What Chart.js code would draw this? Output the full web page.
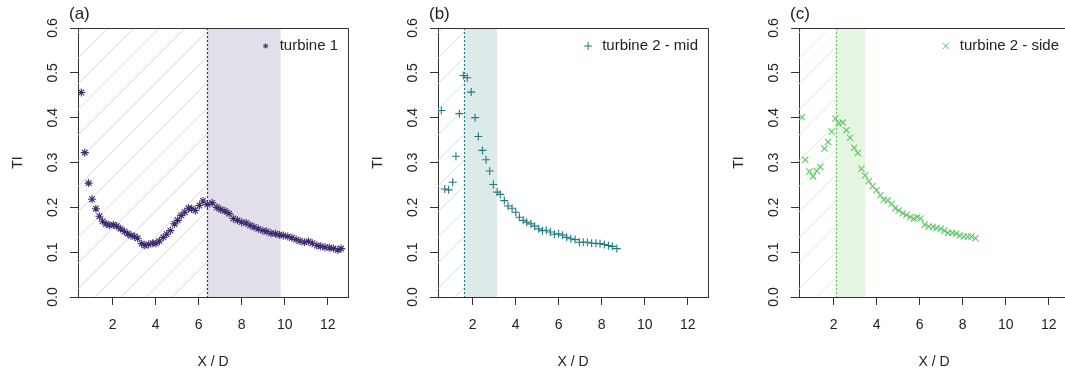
<!DOCTYPE html>
<html>
<head>
<meta charset="utf-8">
<script src="https://cdn.jsdelivr.net/npm/chart.js@4/dist/chart.umd.min.js"></script>
<style>
  html, body { margin: 0; padding: 0; background: #fff; }
  body { width: 1065px; height: 373px; overflow: hidden; position: relative; }
  canvas { position: absolute; top: 0; }
</style>
</head>
<body>
<canvas id="panelA" width="360" height="373" style="left:0px"></canvas>
<canvas id="panelB" width="360" height="373" style="left:360px"></canvas>
<canvas id="panelC" width="360" height="373" style="left:721px"></canvas>
<script>
// axis ticks
const xTicks = [2, 4, 6, 8, 10, 12];
const yTicks = [0, 0.1, 0.2, 0.3, 0.4, 0.5, 0.6];

// turbine 1
const t1X = [0.54, 0.70, 0.88, 1.04, 1.22, 1.38, 1.53, 1.69, 1.84, 2.03, 2.19, 2.37, 2.54, 2.70, 2.85,
  3.02, 3.16, 3.35, 3.50, 3.67, 3.86, 4.01, 4.17, 4.35, 4.51, 4.68, 4.87, 5.02, 5.19, 5.35, 5.52,
  5.67, 5.84, 6.03, 6.20, 6.40, 6.62, 6.84, 7.02, 7.22, 7.41, 7.61, 7.80, 8.00, 8.20, 8.39, 8.57,
  8.77, 8.98, 9.16, 9.36, 9.56, 9.75, 9.93, 10.14, 10.33, 10.53, 10.71, 10.91, 11.10, 11.28,
  11.49, 11.67, 11.87, 12.07, 12.26, 12.47, 12.62];
const t1TI = [0.456, 0.322, 0.254, 0.218, 0.197, 0.180, 0.169, 0.163, 0.160, 0.161, 0.158, 0.152,
  0.146, 0.141, 0.137, 0.135, 0.131, 0.119, 0.115, 0.117, 0.120, 0.120, 0.125, 0.133, 0.140,
  0.148, 0.163, 0.171, 0.182, 0.189, 0.198, 0.197, 0.193, 0.204, 0.214, 0.206, 0.210, 0.200,
  0.195, 0.192, 0.186, 0.175, 0.171, 0.167, 0.165, 0.160, 0.156, 0.152, 0.148, 0.146, 0.142,
  0.141, 0.139, 0.137, 0.135, 0.132, 0.128, 0.125, 0.122, 0.124, 0.120, 0.115, 0.113, 0.111,
  0.110, 0.108, 0.105, 0.108];

// turbine 2 - mid
const midX = [0.54, 0.70, 0.88, 1.07, 1.22, 1.38, 1.56, 1.75, 1.93, 2.11, 2.26, 2.45, 2.62, 2.79,
  2.96, 3.14, 3.28, 3.47, 3.64, 3.83, 4.00, 4.17, 4.35, 4.51, 4.71, 4.88, 5.07, 5.24, 5.42, 5.61,
  5.80, 5.99, 6.18, 6.37, 6.56, 6.76, 6.96, 7.14, 7.33, 7.53, 7.73, 7.92, 8.12, 8.31, 8.49, 8.70];
const midTI = [0.416, 0.241, 0.239, 0.256, 0.314, 0.409, 0.494, 0.489, 0.457, 0.400, 0.358, 0.327,
  0.306, 0.281, 0.251, 0.234, 0.229, 0.215, 0.203, 0.198, 0.189, 0.178, 0.171, 0.167, 0.163,
  0.158, 0.152, 0.148, 0.149, 0.145, 0.140, 0.141, 0.138, 0.133, 0.130, 0.128, 0.122, 0.122,
  0.122, 0.120, 0.120, 0.119, 0.117, 0.115, 0.113, 0.108];

// turbine 2 - side
const sideX = [0.52, 0.68, 0.87, 1.04, 1.21, 1.38, 1.57, 1.74, 1.90, 2.08, 2.23, 2.42, 2.59, 2.76,
  2.95, 3.12, 3.29, 3.46, 3.63, 3.81, 3.99, 4.17, 4.33, 4.51, 4.69, 4.86, 5.02, 5.21, 5.38, 5.57,
  5.72, 5.88, 6.04, 6.23, 6.42, 6.61, 6.78, 6.97, 7.15, 7.32, 7.51, 7.69, 7.86, 8.05, 8.23, 8.40, 8.59];
const sideTI = [0.401, 0.306, 0.280, 0.269, 0.281, 0.290, 0.331, 0.346, 0.369, 0.398, 0.387, 0.389,
  0.372, 0.355, 0.333, 0.321, 0.286, 0.271, 0.258, 0.247, 0.238, 0.227, 0.217, 0.215, 0.208,
  0.198, 0.193, 0.187, 0.183, 0.178, 0.175, 0.178, 0.175, 0.161, 0.157, 0.156, 0.154, 0.152,
  0.148, 0.143, 0.143, 0.141, 0.137, 0.135, 0.135, 0.135, 0.131];

// regions (X / D): hatched up to the dotted line, shaded after it
const panelLabels = ['(a)', '(b)', '(c)'];
const seriesNames = ['turbine 1', 'turbine 2 - mid', 'turbine 2 - side'];
const hatchEnd = [6.40, 1.60, 2.09];
const shadeEnd = [9.81, 3.13, 3.47];

const FONT = '"Liberation Sans", Arial, Helvetica, sans-serif';
const AXIS = '#333';
const TEXT = '#222';

const decor = {
  id: 'decor',
  beforeDatasetsDraw(chart, args, o) {
    const { ctx, chartArea: a, scales: { x } } = chart;
    const xh = x.getPixelForValue(o.hatchEnd);
    const xs = x.getPixelForValue(o.shadeEnd);
    const h = a.bottom - a.top;
    ctx.save();
    ctx.fillStyle = o.shade;
    ctx.fillRect(xh, a.top, xs - xh, h);
    ctx.beginPath();
    ctx.rect(a.left, a.top, xh - a.left, h);
    ctx.clip();
    ctx.strokeStyle = o.hatch;
    ctx.lineWidth = 1;
    ctx.beginPath();
    for (let s = a.left - h + 4.7; s < xh; s += 25.6) {
      ctx.moveTo(s, a.bottom);
      ctx.lineTo(s + h, a.top);
    }
    ctx.stroke();
    ctx.restore();

    ctx.save();
    ctx.strokeStyle = o.color;
    ctx.lineWidth = 1.2;
    ctx.setLineDash([2, 2]);
    ctx.beginPath();
    ctx.moveTo(Math.round(xh) + 0.5, a.top);
    ctx.lineTo(Math.round(xh) + 0.5, a.bottom);
    ctx.stroke();
    ctx.restore();
  },
  afterDraw(chart, args, o) {
    const { ctx, chartArea: a, scales: { x, y } } = chart;
    ctx.save();
    // box top/right + axis line reaching x = 0
    ctx.strokeStyle = AXIS;
    ctx.lineWidth = 1;
    ctx.beginPath();
    ctx.moveTo(a.left, a.top + 0.5);
    ctx.lineTo(a.right + 0.5, a.top + 0.5);
    ctx.lineTo(a.right + 0.5, a.bottom);
    ctx.moveTo(x.getPixelForValue(0), a.bottom + 0.5);
    ctx.lineTo(a.left, a.bottom + 0.5);
    ctx.stroke();

    // rotated y tick labels
    ctx.fillStyle = TEXT;
    ctx.font = '14px ' + FONT;
    ctx.textAlign = 'center';
    ctx.textBaseline = 'middle';
    yTicks.forEach(v => {
      ctx.save();
      ctx.translate(a.left - 25, y.getPixelForValue(v));
      ctx.rotate(-Math.PI / 2);
      ctx.fillText(v.toFixed(1), 0, 0);
      ctx.restore();
    });

    // panel label
    ctx.font = '17px ' + FONT;
    ctx.textAlign = 'left';
    ctx.fillText(o.label, a.left - 9, 14);

    // legend
    ctx.font = '15px ' + FONT;
    ctx.textAlign = 'right';
    const tx = a.right - 10;
    ctx.fillText(o.name, tx, 46);
    const w = ctx.measureText(o.name).width;
    ctx.strokeStyle = o.color;
    ctx.fillStyle = o.color;
    ctx.lineWidth = 1;
    Chart.helpers.drawPoint(ctx, { pointStyle: o.pointStyle, radius: o.legendRadius, rotation: 0, borderWidth: 1 }, tx - w - 14, 46);
    ctx.restore();
  }
};

function makePanel(id, i, xs, ys, color, shade, hatch, pointStyle, radius, legendRadius) {
  new Chart(document.getElementById(id), {
    type: 'scatter',
    data: {
      datasets: [{
        label: seriesNames[i],
        data: xs.map((v, k) => ({ x: v, y: ys[k] })),
        pointStyle: pointStyle,
        pointRadius: radius,
        pointBorderWidth: 1.1,
        borderColor: color,
        backgroundColor: color
      }]
    },
    options: {
      responsive: false,
      animation: false,
      devicePixelRatio: 1,
      layout: { padding: { top: 28, right: 12, left: 0, bottom: 0 } },
      scales: {
        x: {
          type: 'linear', min: 0.386, max: 12.94,
          afterBuildTicks: s => { s.ticks = xTicks.map(v => ({ value: v })); },
          afterFit: s => { s.height = 76; },
          grid: { drawOnChartArea: false, tickLength: 8, color: AXIS },
          border: { color: AXIS },
          ticks: { font: { size: 14, family: FONT }, color: TEXT, padding: 12, maxRotation: 0 },
          title: { display: true, text: 'X / D', font: { size: 14, family: FONT }, color: TEXT, padding: { top: 0, bottom: 2 } }
        },
        y: {
          min: 0, max: 0.6,
          afterBuildTicks: s => { s.ticks = yTicks.map(v => ({ value: v })); },
          afterFit: s => { s.width = 78; },
          grid: { drawOnChartArea: false, tickLength: 8, color: AXIS },
          border: { color: AXIS },
          ticks: { font: { size: 14, family: FONT }, color: 'rgba(0,0,0,0)' },
          title: { display: true, text: 'TI', font: { size: 14, family: FONT }, color: TEXT, padding: { top: 10, bottom: 0 } }
        }
      },
      plugins: {
        legend: { display: false },
        tooltip: { enabled: false },
        decor: {
          label: panelLabels[i], name: seriesNames[i], color: color, shade: shade, hatch: hatch,
          hatchEnd: hatchEnd[i], shadeEnd: shadeEnd[i], pointStyle: pointStyle, legendRadius: legendRadius
        }
      }
    },
    plugins: [decor]
  });
}

makePanel('panelA', 0, t1X, t1TI, '#3f2a70', '#e2dfea', '#d6d3e4', 'star', 4, 2.6);
makePanel('panelB', 1, midX, midTI, '#1f7a84', '#ddeaea', '#cde3e5', 'cross', 4, 4);
makePanel('panelC', 2, sideX, sideTI, '#5dc863', '#e6f5e2', '#d7f0d2', 'crossRot', 4.4, 4.4);
</script>
</body>
</html>
